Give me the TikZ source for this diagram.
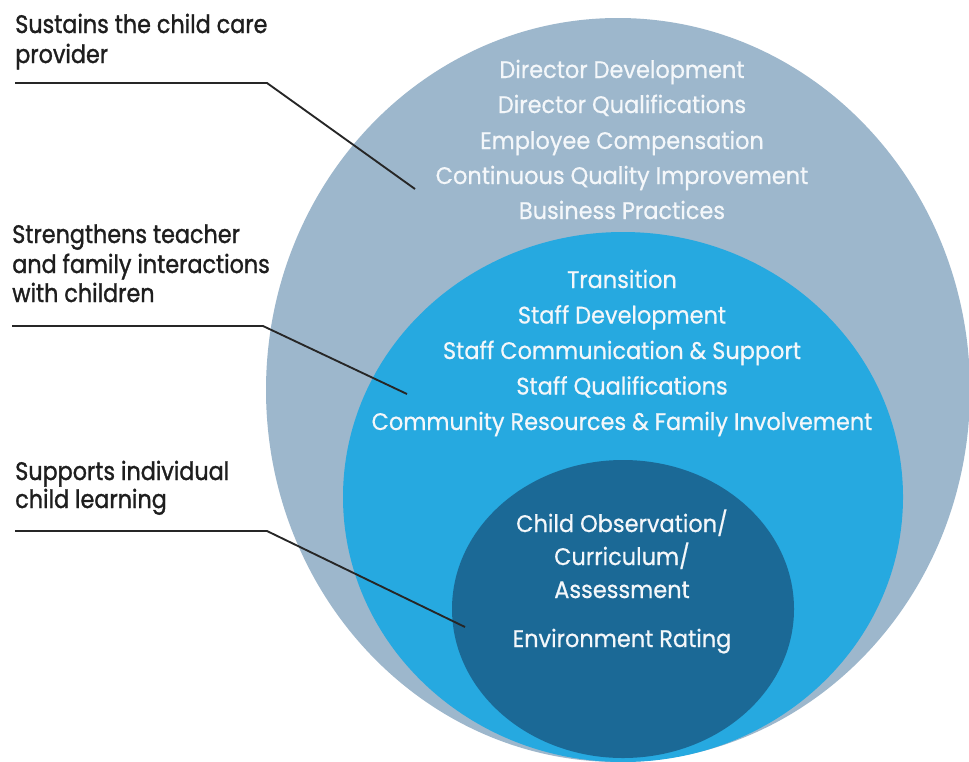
\documentclass[tikz,border=0pt]{standalone}
\usepackage{fontspec}
\setmainfont{Poppins}
\newfontfamily\ctfont{Poppins}[FakeStretch=0.935,FakeBold=0.6]
\newfontfamily\lblfont{Poppins}[FakeStretch=0.88,FakeBold=1.2]
\definecolor{outerc}{RGB}{157,183,204}
\definecolor{midc}{RGB}{38,169,224}
\definecolor{innerc}{RGB}{27,105,150}
\definecolor{txtw}{RGB}{244,247,250}
\definecolor{lblc}{RGB}{30,30,30}
\begin{document}
\begin{tikzpicture}[x=0.75pt,y=-0.75pt,
  ctext/.style={text=txtw,font=\ctfont\fontsize{18}{20}\selectfont,anchor=base,inner sep=0pt},
  lbl/.style={text=lblc,font=\lblfont\fontsize{19}{22}\selectfont,anchor=base west,inner sep=0pt},
  leader/.style={draw=black!85,line width=1.4pt}]
\useasboundingbox (0,0) rectangle (969,761);
\clip (0,0) rectangle (969,761);
\fill[white] (0,0) rectangle (969,761);
\fill[outerc] (618,390) ellipse [x radius=352, y radius=372];
\fill[midc] (623,497) ellipse [x radius=280, y radius=265];
\fill[innerc] (623,609) ellipse [x radius=171, y radius=149];

\node[ctext] (o1) at (622,78) {Director Development};
\node[ctext] (o2) at (622,113) {Director Qualifications};
\node[ctext] (o3) at (622,149) {Employee Compensation};
\node[ctext] (o4) at (622,184) {Continuous Quality Improvement};
\node[ctext] (o5) at (622,219) {Business Practices};

\node[ctext] (m1) at (622,288) {Transition};
\node[ctext] (m2) at (622,323.5) {Staff Development};
\node[ctext] (m3) at (622,359) {Staff Communication \& Support};
\node[ctext] (m4) at (622,394.5) {Staff Qualifications};
\node[ctext] (m5) at (622,430) {Community Resources \& Family Involvement};

\node[ctext] (i1) at (622,532) {Child Observation/};
\node[ctext] (i2) at (622,565) {Curriculum/};
\node[ctext] (i3) at (622,598) {Assessment};
\node[ctext] (i4) at (622,647) {Environment Rating};

\node[lbl] (a1) at (15,33) {Sustains the child care};
\node[lbl] (a2) at (15,63) {provider};
\node[lbl] (b1) at (12,243) {Strengthens teacher};
\node[lbl] (b2) at (12,273) {and family interactions};
\node[lbl] (b3) at (12,302) {with children};
\node[lbl] (c1) at (15,480) {Supports individual};
\node[lbl] (c2) at (15,508) {child learning};

\coordinate (l1a) at (15,83);
\coordinate (l1b) at (267,83);
\coordinate (l1c) at (415,189);
\coordinate (l2a) at (12,326);
\coordinate (l2b) at (263,326);
\coordinate (l2c) at (407,394);
\coordinate (l3a) at (15,531);
\coordinate (l3b) at (267,531);
\coordinate (l3c) at (465,627);
\draw[leader] (l1a) -- (l1b) -- (l1c);
\draw[leader] (l2a) -- (l2b) -- (l2c);
\draw[leader] (l3a) -- (l3b) -- (l3c);
\end{tikzpicture}
\end{document}
